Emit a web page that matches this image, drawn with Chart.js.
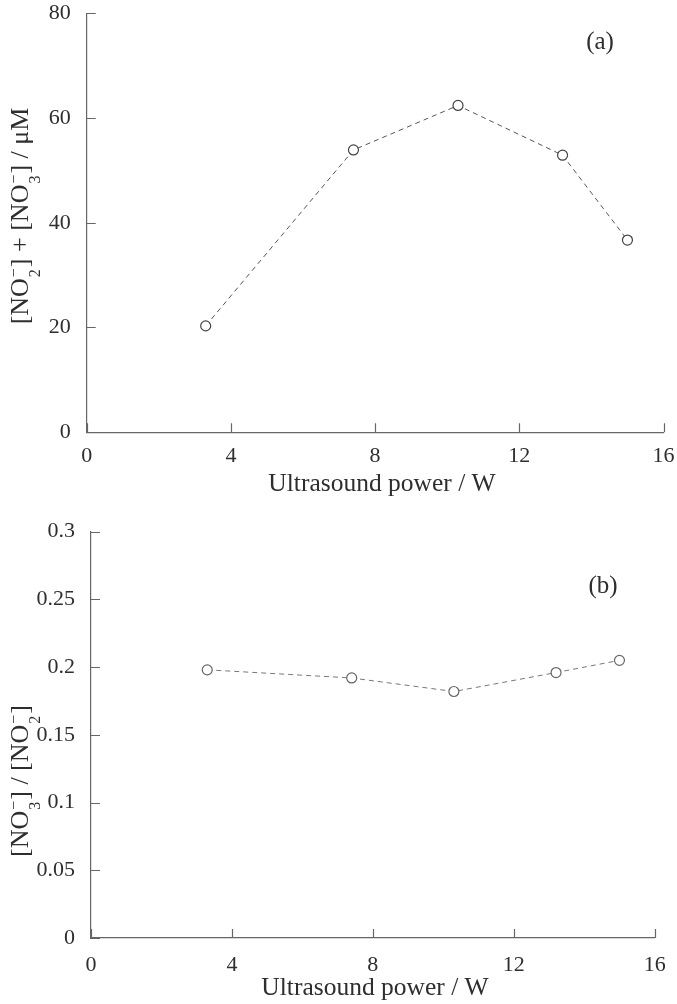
<!DOCTYPE html>
<html><head><meta charset="utf-8">
<script src="https://cdn.jsdelivr.net/npm/chart.js@4/dist/chart.umd.min.js"></script>
<style>
html,body{margin:0;padding:0;background:#fff;}
#wrap{position:relative;width:677px;height:1004px;overflow:hidden;}
canvas{position:absolute;left:0;}
</style></head>
<body><div id="wrap">
<canvas id="ca" width="677" height="505" style="top:0"></canvas>
<canvas id="cb" width="677" height="499" style="top:505px"></canvas>
</div>
<script>
// ---- data ----
const power = [3.3, 7.4, 10.3, 13.2, 15.0];
const totalNOx = [20.3, 53.9, 62.4, 52.9, 36.7];
const ratioNO3NO2 = [0.198, 0.192, 0.182, 0.196, 0.205];
const xTickLabels = ['0', '4', '8', '12', '16'];
const yTickLabelsA = ['0', '20', '40', '60', '80'];
const yTickLabelsB = ['0', '0.05', '0.1', '0.15', '0.2', '0.25', '0.3'];
const xTitle = 'Ultrasound power / W';
const yTitleA = ['[NO', {sub: '2', sup: '−'}, '] + [NO', {sub: '3', sup: '−'}, '] / μM'];
const yTitleB = ['[NO', {sub: '3', sup: '−'}, '] / [NO', {sub: '2', sup: '−'}, ']'];
const panelA = '(a)';
const panelB = '(b)';

// ---- style ----
const FONT = '"Liberation Serif", "Times New Roman", serif';
const axisColor = '#666';
const textColor = '#2e2e2e';

function drawVertical(ctx, segs, baseX, centerY, size, color) {
  const main = size + 'px ' + FONT;
  const small = Math.round(size * 0.62) + 'px ' + FONT;
  const widths = [];
  let total = 0;
  segs.forEach(s => {
    let w;
    if (typeof s === 'string') { ctx.font = main; w = ctx.measureText(s).width; }
    else { ctx.font = small; w = Math.max(ctx.measureText(s.sub).width, ctx.measureText(s.sup).width) + 2; }
    widths.push(w); total += w;
  });
  ctx.save();
  ctx.translate(baseX, centerY);
  ctx.rotate(-Math.PI / 2);
  ctx.fillStyle = color;
  ctx.textAlign = 'left';
  ctx.textBaseline = 'alphabetic';
  let x = -total / 2;
  segs.forEach((s, i) => {
    if (typeof s === 'string') { ctx.font = main; ctx.fillText(s, x, 0); }
    else {
      ctx.font = small;
      ctx.fillText(s.sub, x + 1, size * 0.45);
      ctx.fillText(s.sup, x + 1, -size * 0.35);
    }
    x += widths[i];
  });
  ctx.restore();
}

function decorPlugin(cfg) {
  return {
    id: 'decor',
    afterDraw(chart) {
      const {ctx, chartArea} = chart;
      const xs = chart.scales.x, ys = chart.scales.y;
      ctx.save();
      ctx.strokeStyle = axisColor;
      ctx.lineWidth = 1.2;
      ctx.beginPath();
      xs.ticks.forEach(t => {
        const px = Math.round(xs.getPixelForValue(t.value)) + 0.5;
        ctx.moveTo(px, chartArea.bottom); ctx.lineTo(px, chartArea.bottom - 9);
      });
      ys.ticks.forEach(t => {
        const py = Math.round(ys.getPixelForValue(t.value)) + 0.5;
        ctx.moveTo(chartArea.left, py); ctx.lineTo(chartArea.left + 9, py);
      });
      ctx.stroke();
      // x title
      ctx.fillStyle = textColor;
      ctx.font = '25.5px ' + FONT;
      ctx.textAlign = 'center';
      ctx.textBaseline = 'middle';
      ctx.fillText(xTitle, cfg.xTitlePos[0], cfg.xTitlePos[1]);
      // panel label
      ctx.font = '25px ' + FONT;
      ctx.fillText(cfg.panel, cfg.panelPos[0], cfg.panelPos[1]);
      ctx.restore();
      drawVertical(ctx, cfg.yTitle, cfg.yTitlePos[0], cfg.yTitlePos[1], 26, textColor);
    }
  };
}

function makeChart(id, yVals, yMax, yStep, yLabels, geom, cfg, lineColor, ptColor) {
  const tickFont = {family: FONT, size: 22, lineHeight: 1};
  return new Chart(document.getElementById(id), {
    type: 'scatter',
    data: {
      datasets: [{
        data: power.map((x, i) => ({x: x, y: yVals[i]})),
        showLine: true,
        borderColor: lineColor,
        borderWidth: 1,
        borderDash: [5, 4],
        pointStyle: 'circle',
        pointRadius: 5,
        pointBackgroundColor: '#fff',
        pointBorderColor: ptColor,
        pointBorderWidth: 1.2
      }]
    },
    options: {
      responsive: false,
      animation: false,
      devicePixelRatio: 1,
      layout: {padding: {left: 0, top: geom.top, right: geom.right, bottom: 0}},
      plugins: {legend: {display: false}, tooltip: {enabled: false}},
      scales: {
        x: {
          type: 'linear', min: 0, max: 16,
          grid: {display: false},
          border: {display: true, color: axisColor, width: 1.2},
          ticks: {stepSize: 4, color: textColor, font: tickFont, padding: geom.xpad, maxRotation: 0, autoSkip: false,
                  callback: (v, i) => xTickLabels[i]},
          afterFit: s => { s.height = geom.xh; s.paddingLeft = 0; s.paddingRight = 0; }
        },
        y: {
          type: 'linear', min: 0, max: yMax,
          grid: {display: false},
          border: {display: true, color: axisColor, width: 1.2},
          ticks: {stepSize: yStep, color: textColor, font: tickFont, padding: 8, autoSkip: false,
                  callback: (v, i) => yLabels[i]},
          afterFit: s => { s.width = geom.yw; s.paddingTop = 0; s.paddingBottom = 0; }
        }
      }
    },
    plugins: [decorPlugin(cfg)]
  });
}

makeChart('ca', totalNOx, 80, 20, yTickLabelsA,
  {top: 13.3, right: 13.5, xh: 72.8, yw: 86.7, xpad: 5},
  {xTitlePos: [382, 484], panel: panelA, panelPos: [600, 42], yTitle: yTitleA, yTitlePos: [28, 216]},
  '#555', '#444');
makeChart('cb', ratioNO3NO2, 0.3, 0.05, yTickLabelsB,
  {top: 26.7, right: 22.3, xh: 66, yw: 91, xpad: 8},
  {xTitlePos: [375, 483], panel: panelB, panelPos: [603, 81], yTitle: yTitleB, yTitlePos: [28, 276]},
  '#777', '#666');
</script>
</body></html>
